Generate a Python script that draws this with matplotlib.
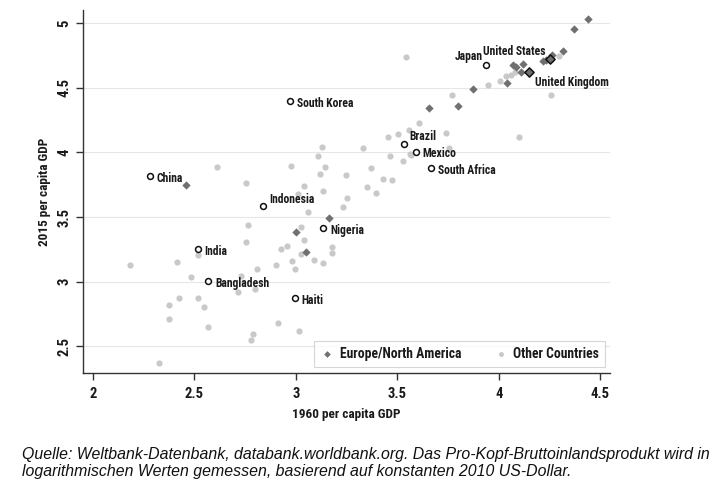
import matplotlib
matplotlib.use('Agg')
from matplotlib import pyplot as plt
from matplotlib import font_manager

# Data: log10 GDP per capita, 1960 vs 2015
europe_x = [4.071, 4.087, 4.12, 4.11, 4.218, 4.23, 4.264, 4.317, 4.371, 4.437,
            4.041, 3.873, 3.657, 3.8, 2.461, 3.164, 3.003, 3.049]
europe_y = [4.675, 4.662, 4.683, 4.619, 4.708, 4.715, 4.752, 4.783, 4.954, 5.031,
            4.534, 4.487, 4.345, 4.358, 3.747, 3.49, 3.381, 3.231]

other_x = [3.545, 4.079, 4.296, 4.034, 4.06, 4.005, 3.947, 3.767, 4.255, 3.606,
           3.742, 4.1, 3.558, 3.504, 3.455, 3.754, 3.131, 3.332, 3.11, 3.466,
           3.526, 3.567, 3.56, 2.975, 3.143, 3.369, 3.121, 3.245, 3.427, 3.476,
           3.039, 3.351, 3.135, 3.397, 3.011, 3.25, 3.23, 3.058, 3.025, 3.039,
           2.954, 3.179, 3.023, 3.176, 2.982, 3.089, 3.135, 2.998, 2.609, 2.754,
           2.762, 2.754, 2.519, 2.182, 2.415, 2.925, 2.901, 2.809, 2.481, 2.729,
           2.716, 2.798, 2.422, 2.519, 2.374, 2.548, 2.374, 2.568, 2.913, 3.016,
           2.787, 2.777, 2.325]
other_y = [4.735, 4.623, 4.747, 4.59, 4.6, 4.554, 4.52, 4.443, 4.443, 4.229,
           4.147, 4.121, 4.172, 4.139, 4.121, 4.031, 4.043, 4.036, 3.971, 3.971,
           3.933, 3.98, 3.99, 3.894, 3.889, 3.881, 3.83, 3.822, 3.791, 3.786,
           3.739, 3.729, 3.701, 3.688, 3.675, 3.644, 3.575, 3.536, 3.42, 3.322,
           3.275, 3.27, 3.213, 3.219, 3.162, 3.167, 3.146, 3.095, 3.889, 3.765,
           3.438, 3.309, 3.206, 3.128, 3.154, 3.252, 3.128, 3.095, 3.038, 3.043,
           2.922, 2.94, 2.871, 2.871, 2.817, 2.806, 2.711, 2.652, 2.678, 2.62,
           2.595, 2.548, 2.368]

# highlighted countries (circle = other, diamond = Europe/North America)
named = ['Japan', 'United States', 'United Kingdom', 'South Korea', 'Brazil',
         'Mexico', 'South Africa', 'China', 'Indonesia', 'Nigeria', 'India',
         'Bangladesh', 'Haiti']
named_x = [3.939, 4.251, 4.149, 2.970, 3.533, 3.594, 3.668, 2.281, 2.836,
           3.135, 2.516, 2.568, 2.995]
named_y = [4.675, 4.719, 4.623, 4.397, 4.062, 4.005, 3.881, 3.817, 3.587,
           3.417, 3.252, 3.007, 2.871]
named_europe = ['United States', 'United Kingdom']

xticks = [2, 2.5, 3, 3.5, 4, 4.5]
xtick_labels = ['2', '2.5', '3', '3.5', '4', '4.5']
yticks = [2.5, 3, 3.5, 4, 4.5, 5]
ytick_labels = ['2.5', '3', '3.5', '4', '4.5', '5']

caption1 = ('Quelle: Weltbank-Datenbank, databank.worldbank.org. Das '
            'Pro-Kopf-Bruttoinlandsprodukt wird in')
caption2 = ('logarithmischen Werten gemessen, basierend auf konstanten '
            '2010 US-Dollar.')

# label placement (points, ha)
label_pos = {
    'Japan': (-3, 6.5, 'right'),
    'United States': (-3, 6, 'right'),
    'United Kingdom': (4, -8, 'left'),
    'Brazil': (4, 5.5, 'left'),
    'Mexico': (4.5, -1, 'left'),
    'Indonesia': (4.5, 4.5, 'left'),
}

installed = {f.name for f in font_manager.fontManager.ttflist}


def pick(*names):
    for n in names:
        if n in installed:
            return n
    return 'DejaVu Sans'


cond = pick('Roboto Condensed', 'DejaVu Sans Condensed', 'Liberation Sans Narrow')
narrow = pick('Liberation Sans Narrow', 'Liberation Sans')
cap_size = 12.8 if narrow == 'Liberation Sans Narrow' else 11.4

plt.rcParams['font.family'] = [cond, 'DejaVu Sans']
plt.rcParams['font.stretch'] = 'condensed'
plt.rcParams['font.weight'] = 'bold'

fig = plt.figure(figsize=(7.26, 4.84), dpi=100)
ax = fig.add_axes([0.114, 0.229, 0.726, 0.75])

ax.scatter(other_x, other_y, s=20, marker='o', color='#c9c9c9', linewidths=0,
           zorder=2, label='Other Countries')
ax.scatter(europe_x, europe_y, s=18, marker='D', color='#707070', linewidths=0,
           zorder=3, label='Europe/North America')

for name, x, y in zip(named, named_x, named_y):
    if name in named_europe:
        ax.scatter([x], [y], s=22, marker='D', facecolor='#6f6f6f',
                   edgecolor='#111111', linewidths=1.1, zorder=5)
    else:
        ax.scatter([x], [y], s=18, marker='o', facecolor='white',
                   edgecolor='#111111', linewidths=1.1, zorder=5)
    dx, dy, ha = label_pos.get(name, (5, -1.8, 'left'))
    ax.annotate(name, (x, y), xytext=(dx, dy), textcoords='offset points',
                ha=ha, va='center', fontsize=8.4, fontweight='bold',
                color='#1a1a1a', zorder=6)

ax.set_xlim(1.95, 4.547)
ax.set_ylim(2.293, 5.10)
ax.set_xticks(xticks)
ax.set_xticklabels(xtick_labels)
ax.set_yticks(yticks)
ax.set_yticklabels(ytick_labels, rotation=90, va='center')
ax.tick_params(length=5, width=1, color='#333333', labelsize=10.5,
               labelcolor='#1a1a1a', pad=3)
ax.tick_params(axis='x', pad=5)
ax.grid(axis='y', color='#e6e6e6', linewidth=0.8, zorder=0)
ax.set_axisbelow(True)
for side in ['top', 'right']:
    ax.spines[side].set_visible(False)
for side in ['left', 'bottom']:
    ax.spines[side].set_color('#333333')
    ax.spines[side].set_linewidth(1)

ax.set_xlabel('1960 per capita GDP', fontsize=9.5, fontweight='bold',
              color='#1a1a1a', labelpad=5)
ax.set_ylabel('2015 per capita GDP', fontsize=9.5, fontweight='bold',
              color='#1a1a1a', labelpad=5)

handles, labels = ax.get_legend_handles_labels()
leg = ax.legend(handles[::-1], labels[::-1], ncol=2, loc='lower right',
                bbox_to_anchor=(0.9905, 0.0165), borderaxespad=0,
                frameon=True, fancybox=False, edgecolor='#cccccc',
                fontsize=9.8, handletextpad=0.4, handlelength=1.0,
                columnspacing=2.4, borderpad=0.45, markerscale=0.8)
leg.get_frame().set_linewidth(0.8)
for t in leg.get_texts():
    t.set_color('#1a1a1a')

fig.text(0.030, 0.060, caption1, fontsize=cap_size, style='italic',
         family=narrow, stretch='normal', weight='normal', va='center',
         color='#111111')
fig.text(0.030, 0.025, caption2, fontsize=cap_size, style='italic',
         family=narrow, stretch='normal', weight='normal', va='center',
         color='#111111')

fig.savefig('out.png', dpi=100)
